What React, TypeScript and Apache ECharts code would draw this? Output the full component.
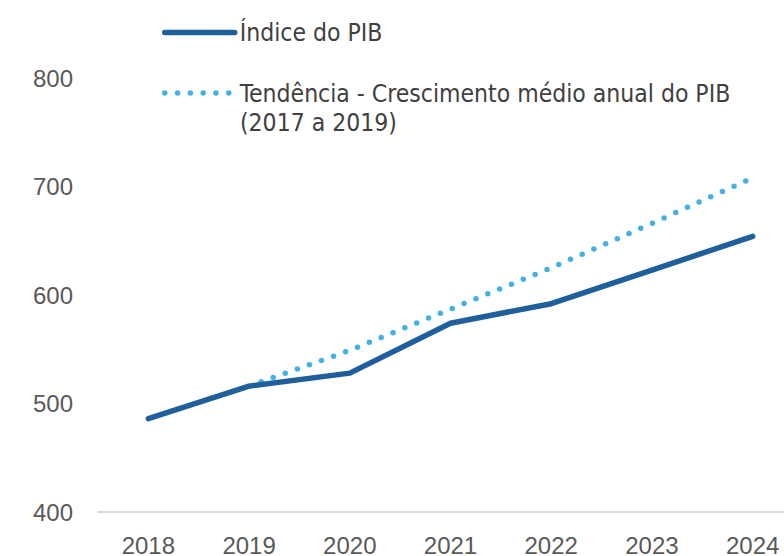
import React, { useEffect, useRef } from "react";
import * as echarts from "echarts";

const years = ["2018", "2019", "2020", "2021", "2022", "2023", "2024"];
const indicePIB = [486, 516, 528, 574, 592, 623, 654];
const tendencia = [null, 516, 549, 587, 625, 666, 708];
const serieNames = ["Índice do PIB", "Tendência - Crescimento médio anual do PIB"];
const legendSecondLine = "(2017 a 2019)";

const legendFont = "'DejaVu Sans Condensed', 'Liberation Sans', sans-serif";
const axisFont = "'Liberation Sans', Arial, sans-serif";

export default function App() {
  const ref = useRef<HTMLDivElement>(null);
  useEffect(() => {
    if (!ref.current) return;
    const chart = echarts.init(ref.current, null, { renderer: "svg" });
    const hiddenSymbol = { color: "transparent", borderWidth: 0, opacity: 0 };
    chart.setOption({
      animation: false,
      backgroundColor: "#ffffff",
      grid: {
        left: 98,
        width: 705,
        top: 78,
        bottom: 44,
        containLabel: false,
        outerBoundsMode: "none",
      },
      legend: [
        {
          data: [serieNames[0]],
          left: 157,
          top: 15,
          itemWidth: 70,
          itemHeight: 14,
          itemStyle: hiddenSymbol,
          lineStyle: { width: 5.5, cap: "round" },
          textStyle: { fontFamily: legendFont, fontSize: 24.5, color: "#404040" },
          selectedMode: false,
        },
        {
          data: [serieNames[1]],
          left: 157,
          top: 75.5,
          itemWidth: 70,
          itemHeight: 14,
          itemStyle: hiddenSymbol,
          lineStyle: { width: 5.5, cap: "round", type: [0, 12.8] },
          textStyle: { fontFamily: legendFont, fontSize: 24.5, color: "#404040" },
          selectedMode: false,
        },
      ],
      graphic: [
        {
          type: "text",
          x: 240,
          y: 122,
          style: {
            text: legendSecondLine,
            font: `24.5px ${legendFont}`,
            fill: "#404040",
            verticalAlign: "middle",
          },
        },
      ],
      xAxis: {
        type: "category",
        data: years,
        boundaryGap: true,
        axisLine: { lineStyle: { color: "#d9d9d9", width: 2 } },
        axisTick: { show: false },
        axisLabel: { color: "#595959", fontSize: 24, margin: 21, fontFamily: axisFont },
      },
      yAxis: {
        type: "value",
        min: 400,
        max: 800,
        interval: 100,
        splitLine: { show: false },
        axisLine: { show: false },
        axisTick: { show: false },
        axisLabel: { color: "#595959", fontSize: 24, margin: 25, fontFamily: axisFont },
      },
      series: [
        {
          name: serieNames[1],
          type: "line",
          data: tendencia,
          symbol: "none",
          color: "#44b1e4",
          lineStyle: { width: 5.5, color: "#44b1e4", type: [0, 12.8], cap: "round" },
          z: 1,
        },
        {
          name: serieNames[0],
          type: "line",
          data: indicePIB,
          symbol: "none",
          color: "#1f5f9c",
          lineStyle: { width: 5.5, color: "#1f5f9c", cap: "round", join: "round" },
          z: 2,
        },
      ],
    });
    return () => chart.dispose();
  }, []);
  return <div ref={ref} style={{ width: 784, height: 556, position: "absolute", left: 0, top: 0 }} />;
}
